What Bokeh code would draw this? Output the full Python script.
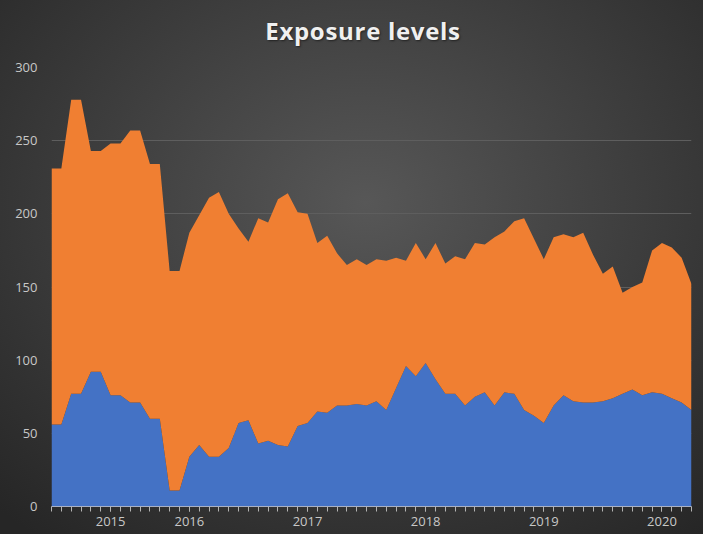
from bokeh.plotting import figure
from bokeh.models import Range1d, FixedTicker, ColumnDataSource, Div
from bokeh.layouts import column
from bokeh.embed import file_html
from bokeh.resources import INLINE

months = list(range(66))
blue = [56, 56, 77, 77, 92, 92, 76, 76, 71, 71, 60, 60, 11, 11, 34, 42, 34, 34, 40, 57,
        59, 43, 45, 42, 41, 55, 57, 65, 64, 69, 69, 70, 69, 72, 66, 81, 96, 89, 98, 87,
        77, 77, 69, 75, 78, 69, 78, 77, 66, 62, 57, 69, 76, 72, 71, 71, 72, 74, 77, 80,
        76, 78, 77, 74, 71, 66]
orange = [175, 175, 201, 201, 151, 151, 172, 172, 186, 186, 174, 174, 150, 150, 153, 157, 177, 181, 160, 133,
          122, 154, 149, 168, 173, 146, 143, 115, 121, 104, 96, 99, 96, 97, 102, 89, 72, 91, 71, 93,
          89, 94, 100, 105, 101, 115, 110, 118, 131, 121, 112, 115, 110, 112, 116, 101, 87, 90, 69, 70,
          77, 97, 103, 103, 99, 86]
year_labels = ["2015", "2016", "2017", "2018", "2019", "2020"]
year_pos = [6, 14, 26, 38, 50, 62]
y_ticks = [0, 50, 100, 150, 200, 250, 300]
title_text = "Exposure levels"

src = ColumnDataSource(dict(x=months, blue=blue, orange=orange))

title_div = Div(
    text=('<div style="width:703px;height:52px;padding-top:14px;line-height:34px;text-align:center;'
          'padding-left:23px;box-sizing:border-box;font-family:\'Open Sans\';'
          'font-weight:bold;font-size:24px;letter-spacing:0.7px;color:#f0f0f0;'
          'text-shadow:1px 1px 2px rgba(0,0,0,0.5);white-space:nowrap;">'
          + title_text + '</div>'),
    width=703, height=52, margin=0)

p = figure(width=703, height=482, output_backend="svg", toolbar_location=None,
           x_range=Range1d(0, 65), y_range=Range1d(0, 300),
           min_border_left=51, min_border_right=12, min_border_top=15, min_border_bottom=28)

p.background_fill_alpha = 0
p.border_fill_alpha = 0
p.outline_line_color = None

p.varea_stack(["blue", "orange"], x="x", color=["#4472c5", "#f07f32"], source=src)

p.xgrid.grid_line_color = None
p.ygrid.grid_line_color = "#5e5e5e"
p.ygrid.ticker = FixedTicker(ticks=y_ticks)

p.yaxis.ticker = FixedTicker(ticks=y_ticks)
p.yaxis.axis_line_color = None
p.yaxis.major_tick_line_color = None
p.yaxis.minor_tick_line_color = None
p.yaxis.major_tick_out = 0
p.yaxis.major_label_standoff = 14
p.yaxis.major_label_text_color = "#c8c8c8"
p.yaxis.major_label_text_font = "Open Sans"
p.yaxis.major_label_text_font_size = "13px"

p.xaxis.ticker = FixedTicker(ticks=year_pos, minor_ticks=months)
p.xaxis.major_label_overrides = {pos: lab for pos, lab in zip(year_pos, year_labels)}
p.xaxis.axis_line_color = "#a8b0c4"
p.xaxis.major_tick_line_color = "#b4b4b4"
p.xaxis.minor_tick_line_color = "#b4b4b4"
p.xaxis.major_tick_out = 5
p.xaxis.major_tick_in = 0
p.xaxis.minor_tick_out = 5
p.xaxis.minor_tick_in = 0
p.xaxis.major_label_standoff = 5
p.xaxis.major_label_text_color = "#c8c8c8"
p.xaxis.major_label_text_font = "Open Sans"
p.xaxis.major_label_text_font_size = "13px"

layout = column(title_div, p, spacing=0, width=703, height=534,
                styles={"background": "radial-gradient(ellipse 75% 80% at 52% 38%, #575757 0%, #3c3c3c 55%, #262626 100%)"})

open("out.html", "w").write(file_html(layout, INLINE))
